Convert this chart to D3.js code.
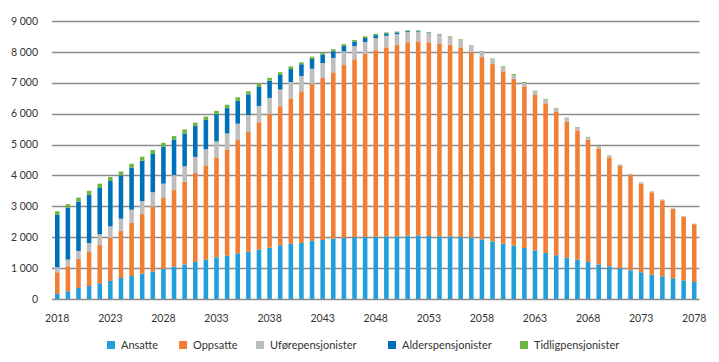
<!DOCTYPE html>
<html>
<head>
<meta charset="utf-8">
<script src="https://cdn.jsdelivr.net/npm/d3@7"></script>
<style>
    body { margin: 0; background: #fff; }
    text { font-family: Lato, "Open Sans", sans-serif; fill: #333; }
</style>
</head>
<body>
<div id="chart"></div>
<script>
var years = d3.range(2018, 2079);

var ansatte = [165, 250, 355, 420, 510, 585, 680, 745, 820, 895,
    970, 1045, 1120, 1200, 1275, 1350, 1400, 1480, 1530, 1600,
    1660, 1740, 1790, 1815, 1880, 1910, 1955, 1975, 2000, 2010,
    2015, 2030, 2030, 2050, 2060, 2040, 2030, 2030, 2005, 1985,
    1930, 1865, 1790, 1725, 1650, 1575, 1490, 1415, 1340, 1275,
    1200, 1120, 1060, 995, 930, 865, 790, 735, 670, 605, 550];
var oppsatte = [700, 810, 940, 1100, 1250, 1390, 1520, 1735, 1930, 2095,
    2300, 2480, 2675, 2880, 3050, 3235, 3445, 3665, 3875, 4120,
    4330, 4500, 4705, 4910, 5080, 5245, 5385, 5600, 5760, 5920,
    6040, 6115, 6200, 6260, 6280, 6270, 6235, 6200, 6140, 6010,
    5900, 5740, 5580, 5395, 5235, 5030, 4845, 4640, 4410, 4185,
    3960, 3755, 3525, 3310, 3085, 2870, 2665, 2460, 2245, 2060, 1870];
var ufore = [160, 215, 260, 290, 335, 375, 400, 410, 420, 465,
    465, 485, 505, 520, 520, 520, 515, 530, 550, 530,
    520, 540, 530, 495, 495, 485, 465, 440, 430, 390,
    390, 380, 345, 335, 315, 300, 280, 250, 240, 215,
    175, 160, 150, 130, 110, 120, 120, 110, 100, 85,
    75, 65, 55, 45, 40, 40, 30, 30, 20, 20, 20];
var alders = [1695, 1675, 1600, 1555, 1500, 1470, 1400, 1360, 1305, 1240,
    1200, 1145, 1060, 1000, 950, 875, 820, 745, 670, 615,
    560, 475, 420, 380, 315, 270, 215, 185, 140, 130,
    95, 75, 55, 30, 20, 15, 10, 5, 0, 0,
    0, 0, 0, 0, 0, 0, 0, 0, 0, 0,
    0, 0, 0, 0, 0, 0, 0, 0, 0, 0, 0];
var tidlig = [120, 120, 125, 140, 140, 130, 130, 130, 130, 130,
    120, 120, 130, 110, 110, 110, 110, 110, 100, 110,
    90, 85, 85, 65, 75, 65, 65, 55, 55, 55,
    45, 30, 30, 20, 20, 15, 25, 15, 20, 10,
    20, 20, 20, 30, 30, 20, 20, 20, 20, 20,
    15, 10, 10, 5, 5, 5, 5, 0, 0, 0, 0];

var seriesNames = ["Ansatte", "Oppsatte", "Uførepensjonister", "Alderspensjonister", "Tidligpensjonister"];
var colors = ["#229fdb", "#f07f35", "#bebebe", "#0071b9", "#6db543"];
var yTicks = [0, 1000, 2000, 3000, 4000, 5000, 6000, 7000, 8000, 9000];
var xTicks = [2018, 2023, 2028, 2033, 2038, 2043, 2048, 2053, 2058, 2063, 2068, 2073, 2078];

var width = 719;
var height = 362;
var margin = { left: 52, right: 19.5, top: 21, bottom: 63 };

var rows = years.map(function (y, i) {
    return { year: y, a: ansatte[i], o: oppsatte[i], u: ufore[i], al: alders[i], t: tidlig[i] };
});
var keys = ["a", "o", "u", "al", "t"];
var stacked = d3.stack().keys(keys)(rows);

var xScale = d3.scaleBand()
    .domain(years)
    .range([margin.left, width - margin.right])
    .paddingInner(0.57)
    .paddingOuter(0.28);
var yScale = d3.scaleLinear()
    .domain([0, 9000])
    .range([height - margin.bottom - 0, margin.top]);

var svg = d3.select("#chart").append("svg")
    .attr("width", width)
    .attr("height", height);

// gridlines
svg.append("g")
    .selectAll("line")
    .data(yTicks)
    .enter().append("line")
    .attr("x1", margin.left)
    .attr("x2", width - margin.right)
    .attr("y1", function (d) { return Math.round(yScale(d)) + 0.5; })
    .attr("y2", function (d) { return Math.round(yScale(d)) + 0.5; })
    .attr("stroke", "#8c8c8c")
    .attr("stroke-width", 1.3);

// y labels
var fmt = function (d) { return d3.format(",")(d).replace(",", " "); };
svg.append("g")
    .selectAll("text")
    .data(yTicks)
    .enter().append("text")
    .attr("x", 38)
    .attr("y", function (d) { return yScale(d); })
    .attr("dy", "0.35em")
    .attr("text-anchor", "end")
    .style("font-size", "10.5px")
    .text(fmt);

// bars
svg.append("g")
    .selectAll("g")
    .data(stacked)
    .enter().append("g")
    .attr("fill", function (d, i) { return colors[i]; })
    .selectAll("rect")
    .data(function (d) { return d; })
    .enter().append("rect")
    .attr("x", function (d) { return xScale(d.data.year); })
    .attr("width", xScale.bandwidth())
    .attr("y", function (d) { return yScale(d[1]); })
    .attr("height", function (d) { return yScale(d[0]) - yScale(d[1]); });

// x labels
svg.append("g")
    .selectAll("text")
    .data(xTicks)
    .enter().append("text")
    .attr("x", function (d) { return xScale(d) + xScale.bandwidth() / 2; })
    .attr("y", 318)
    .attr("dy", "0.35em")
    .attr("text-anchor", "middle")
    .style("font-size", "10.5px")
    .text(function (d) { return d; });

// legend
var legendX = [107, 179, 256, 388, 520];
var legend = svg.append("g")
    .selectAll("g")
    .data(seriesNames)
    .enter().append("g")
    .attr("transform", function (d, i) { return "translate(" + legendX[i] + ",345)"; });
legend.append("rect")
    .attr("x", 0)
    .attr("y", -4)
    .attr("width", 8)
    .attr("height", 8)
    .attr("fill", function (d, i) { return colors[i]; });
legend.append("text")
    .attr("x", 14)
    .attr("y", 0)
    .attr("dy", "0.35em")
    .style("font-size", "11px")
    .text(function (d) { return d; });
</script>
</body>
</html>
